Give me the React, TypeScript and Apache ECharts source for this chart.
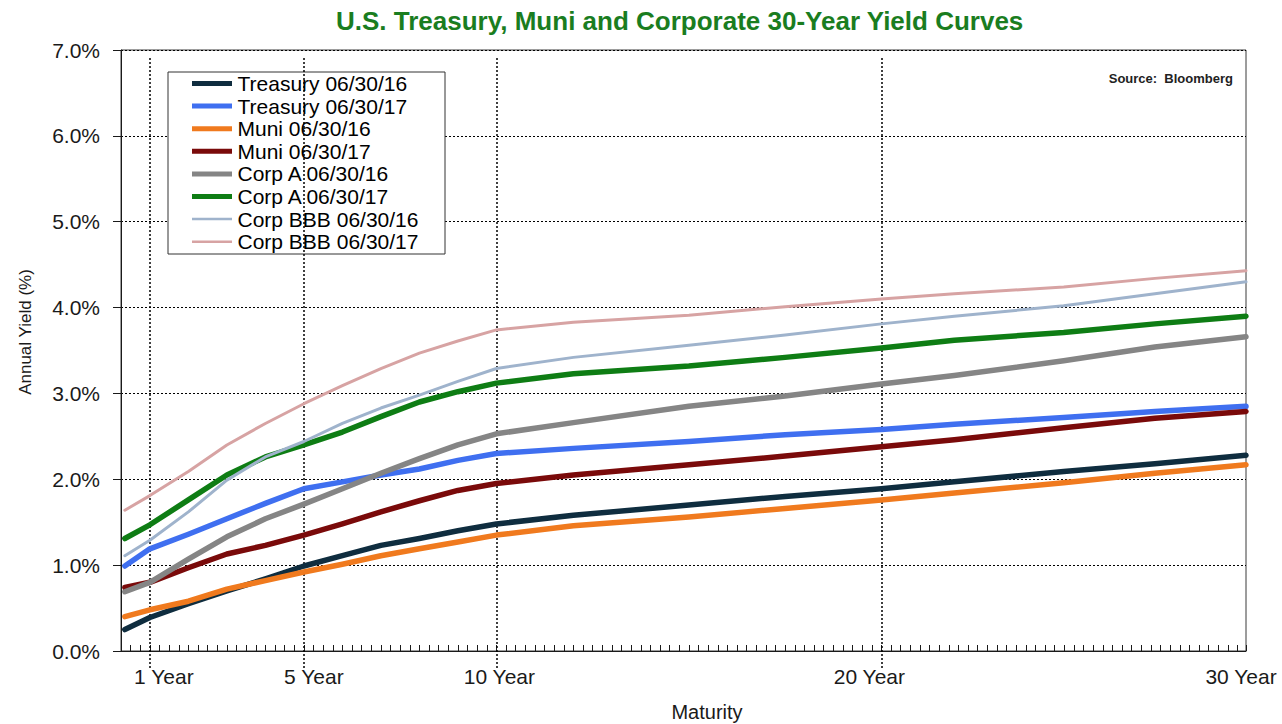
import React, { useEffect, useRef } from 'react';
import * as echarts from 'echarts';

// Maturity in years
const maturities = [0.35, 1, 2, 3, 4, 5, 6, 7, 8, 9, 10, 12, 15, 17.5, 20, 22, 25, 27.5, 30];

// Yields in %
const treasury16 = [0.25, 0.39, 0.55, 0.70, 0.84, 0.99, 1.11, 1.23, 1.31, 1.40, 1.48, 1.58, 1.70, 1.80, 1.89, 1.97, 2.09, 2.18, 2.28];
const treasury17 = [0.99, 1.19, 1.36, 1.54, 1.72, 1.89, 1.97, 2.05, 2.12, 2.22, 2.30, 2.36, 2.44, 2.52, 2.58, 2.64, 2.72, 2.79, 2.85];
const muni16 = [0.40, 0.48, 0.58, 0.72, 0.82, 0.92, 1.01, 1.11, 1.19, 1.27, 1.35, 1.46, 1.56, 1.66, 1.76, 1.84, 1.96, 2.07, 2.17];
const muni17 = [0.74, 0.80, 0.97, 1.13, 1.23, 1.35, 1.48, 1.62, 1.75, 1.87, 1.95, 2.05, 2.17, 2.27, 2.38, 2.46, 2.60, 2.71, 2.79];
const corpA16 = [0.69, 0.80, 1.07, 1.33, 1.54, 1.71, 1.89, 2.07, 2.24, 2.40, 2.53, 2.66, 2.85, 2.97, 3.11, 3.21, 3.38, 3.54, 3.66];
const corpA17 = [1.31, 1.47, 1.76, 2.05, 2.26, 2.40, 2.55, 2.73, 2.90, 3.02, 3.12, 3.23, 3.32, 3.42, 3.53, 3.62, 3.71, 3.81, 3.90];
const corpBBB16 = [1.11, 1.29, 1.62, 1.99, 2.26, 2.44, 2.65, 2.83, 2.98, 3.14, 3.29, 3.42, 3.56, 3.68, 3.81, 3.90, 4.02, 4.16, 4.30];
const corpBBB17 = [1.64, 1.81, 2.09, 2.40, 2.65, 2.88, 3.09, 3.29, 3.47, 3.61, 3.74, 3.83, 3.91, 4.01, 4.10, 4.16, 4.24, 4.34, 4.43];

const seriesNames = [
  'Treasury 06/30/16',
  'Treasury 06/30/17',
  'Muni 06/30/16',
  'Muni 06/30/17',
  'Corp A 06/30/16',
  'Corp A 06/30/17',
  'Corp BBB 06/30/16',
  'Corp BBB 06/30/17',
];
const seriesValues = [treasury16, treasury17, muni16, muni17, corpA16, corpA17, corpBBB16, corpBBB17];
const seriesColors = ['#0f2d3f', '#3f6ff0', '#f07a1e', '#7a0a0a', '#858585', '#0e7d14', '#9fb3cc', '#d7a3a3'];
const seriesThin = [false, false, false, false, false, false, true, true];

const xLabelYears = [1, 5, 10, 20, 30];
const gridYears = [1, 5, 10, 20];
const yMin = 0;
const yMax = 7;
const yStep = 1;

const TITLE = 'U.S. Treasury, Muni and Corporate 30-Year Yield Curves';
const FONT = '"Liberation Sans", Arial, Helvetica, sans-serif';

// The original's axis is slightly compressed beyond 20 years
const COMPRESS = 0.947;
const pos = (t: number) => (t <= 20 ? t : 20 + (t - 20) * COMPRESS);
const inv = (s: number) => (s <= 20.001 ? s : 20 + (s - 20) / COMPRESS);

// per-label horizontal nudge (px) as in the original layout
const labelNudge = [14, 10, 3, -12, -5];

const THICK_ICON = 'path://M0 0H40V5H0Z';
const THIN_ICON = 'path://M0 0H40V0.01H0Z M0 1.25H40V3.75H0Z M0 4.99H40V5H0Z';

export default function App() {
  const ref = useRef<HTMLDivElement>(null);

  useEffect(() => {
    if (!ref.current) return;
    const chart = echarts.init(ref.current, undefined, { renderer: 'svg' });
    const xMin = 0.25;
    const xMax = pos(30);

    const series: any[] = seriesNames.map((name, i) => ({
      name,
      type: 'line',
      xAxisIndex: 0,
      yAxisIndex: 0,
      data: maturities.map((t, j) => [pos(t), seriesValues[i][j]]),
      showSymbol: false,
      symbol: 'none',
      smooth: false,
      color: seriesColors[i],
      lineStyle: { width: seriesThin[i] ? 3 : 5.5, color: seriesColors[i], cap: 'round', join: 'round' },
      z: 5 + i,
    }));

    const rich: Record<string, any> = {};
    labelNudge.forEach((d, i) => {
      rich['s' + i] = {
        fontFamily: FONT,
        fontSize: 21,
        color: '#1a1a1a',
        padding: d >= 0 ? [0, 0, 0, 2 * d] : [0, -2 * d, 0, 0],
      };
    });

    chart.setOption({
      animation: false,
      backgroundColor: '#ffffff',
      textStyle: { fontFamily: FONT },
      title: {
        text: TITLE,
        left: 331,
        top: 3,
        textStyle: { fontFamily: FONT, fontSize: 26, fontWeight: 'bold', color: '#1a7d1f' },
      },
      grid: {
        left: 121,
        right: 36,
        top: 50,
        bottom: 73,
        show: true,
        borderColor: '#3a3a3a',
        borderWidth: 1,
        backgroundColor: 'transparent',
        containLabel: false,
        outerBoundsMode: 'none',
      },
      legend: {
        orient: 'vertical',
        left: 192,
        top: 73,
        padding: 0,
        itemWidth: 41,
        itemHeight: 5,
        itemGap: 1.6,
        z: 10,
        selectedMode: false,
        textStyle: { fontFamily: FONT, fontSize: 21, color: '#000', lineHeight: 20 },
        data: seriesNames.map((name, i) => ({ name, icon: seriesThin[i] ? THIN_ICON : THICK_ICON })),
      },
      xAxis: [
        {
          type: 'value',
          min: xMin,
          max: xMax,
          interval: 0.25,
          position: 'bottom',
          axisLine: { show: true, lineStyle: { color: '#1a1a1a', width: 1 } },
          axisTick: { show: true, inside: true, length: 6, lineStyle: { color: '#1a1a1a', width: 1 } },
          splitLine: { show: false },
          axisLabel: {
            show: true,
            customValues: xLabelYears.map(pos),
            margin: 15,
            fontFamily: FONT,
            fontSize: 21,
            color: '#1a1a1a',
            formatter: (v: number) => {
              const yr = Math.round(inv(v));
              const idx = xLabelYears.indexOf(yr);
              return `{s${idx < 0 ? 0 : idx}|${yr} Year}`;
            },
            rich,
          },
        },
        {
          type: 'value',
          min: xMin,
          max: xMax,
          position: 'top',
          offset: -8,
          z: 3,
          axisLine: { show: false },
          axisTick: {
            show: true,
            inside: true,
            length: 610,
            customValues: gridYears.map(pos),
            lineStyle: { color: '#000', width: 1.5, type: [2, 2] },
          },
          axisLabel: { show: false },
          splitLine: { show: false },
        },
      ],
      yAxis: {
        type: 'value',
        min: yMin,
        max: yMax,
        interval: yStep,
        axisLine: { show: true, lineStyle: { color: '#1a1a1a', width: 1 } },
        axisTick: { show: true, inside: false, length: 8, lineStyle: { color: '#1a1a1a' } },
        splitLine: { show: true, lineStyle: { color: '#000', width: 1, type: [2, 2] } },
        axisLabel: {
          margin: 21,
          fontFamily: FONT,
          fontSize: 21,
          color: '#1a1a1a',
          formatter: (v: number) => `${v.toFixed(1)}%`,
        },
      },
      graphic: [
        {
          type: 'rect',
          z: 1,
          shape: { x: 168, y: 72, width: 277, height: 182 },
          style: { fill: '#ffffff', stroke: '#333333', lineWidth: 1 },
        },
        {
          type: 'text',
          z: 10,
          x: 1233,
          y: 78,
          style: {
            text: 'Source:  Bloomberg',
            font: `bold 13px ${FONT}`,
            fill: '#222',
            textAlign: 'right',
            textVerticalAlign: 'middle',
          },
        },
        {
          type: 'text',
          z: 10,
          x: 25,
          y: 332,
          rotation: Math.PI / 2,
          style: {
            text: 'Annual Yield (%)',
            font: `17px ${FONT}`,
            fill: '#1a1a1a',
            textAlign: 'center',
            textVerticalAlign: 'middle',
          },
        },
        {
          type: 'text',
          z: 10,
          x: 707,
          y: 712,
          style: {
            text: 'Maturity',
            font: `20px ${FONT}`,
            fill: '#1a1a1a',
            textAlign: 'center',
            textVerticalAlign: 'middle',
          },
        },
      ],
      series,
    });

    return () => chart.dispose();
  }, []);

  return (
    <div
      ref={ref}
      style={{ position: 'fixed', left: 0, top: 0, width: 1282, height: 724, background: '#fff' }}
    />
  );
}
